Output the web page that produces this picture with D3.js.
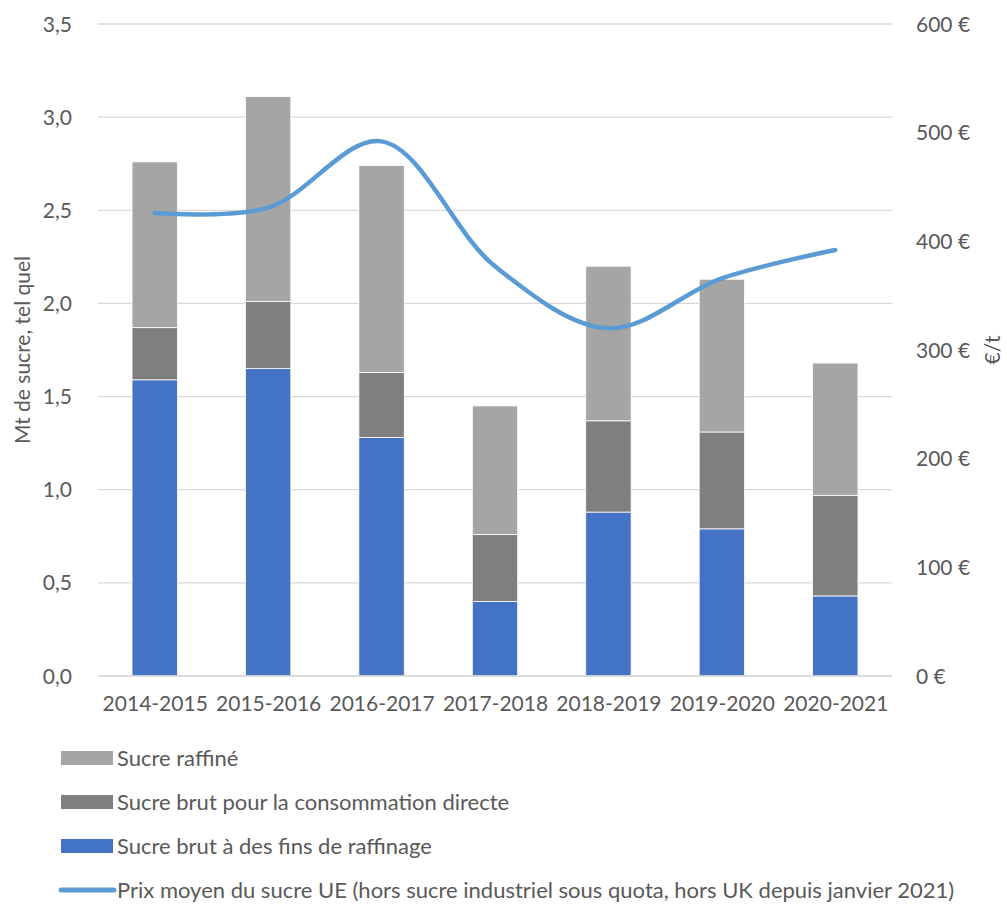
<!DOCTYPE html>
<html>
<head>
<meta charset="utf-8">
<script src="https://cdn.jsdelivr.net/npm/d3@7"></script>
<style>
  body { margin: 0; background: #fff; }
  text { font-family: Lato, "Open Sans", sans-serif; fill: #595959; }
</style>
</head>
<body>
<svg id="chart" width="1007" height="904"></svg>
<script>
// data
const campagnes = ["2014-2015", "2015-2016", "2016-2017", "2017-2018", "2018-2019", "2019-2020", "2020-2021"];
const brutRaffinage = [1.59, 1.65, 1.28, 0.40, 0.88, 0.79, 0.43];
const brutDirect = [0.28, 0.36, 0.35, 0.36, 0.49, 0.52, 0.54];
const raffine = [0.89, 1.10, 1.11, 0.69, 0.83, 0.82, 0.71];
const prixMoyen = [426, 431, 492, 377, 320, 366, 392];

const leftTicks = [0, 0.5, 1, 1.5, 2, 2.5, 3, 3.5];
const rightTicks = [0, 100, 200, 300, 400, 500, 600];

const seriesNames = {
  raffine: "Sucre raffiné",
  brutDirect: "Sucre brut pour la consommation directe",
  brutRaffinage: "Sucre brut à des fins de raffinage",
  prix: "Prix moyen du sucre UE (hors sucre industriel sous quota, hors UK depuis janvier 2021)"
};
const colors = { brutRaffinage: "#4472C4", brutDirect: "#7F7F7F", raffine: "#A5A5A5", prix: "#5B9BD5" };

const svg = d3.select("#chart");
const margins = { left: 98, right: 115, top: 24, bottom: 228 };
const W = 1007, H = 904;

const table = campagnes.map((c, i) => ({
  campagne: c,
  brutRaffinage: brutRaffinage[i],
  brutDirect: brutDirect[i],
  raffine: raffine[i],
  prix: prixMoyen[i]
}));

const x = d3.scaleBand().domain(campagnes)
  .range([margins.left, W - margins.right]).paddingInner(0.6).paddingOuter(0.3);
const xCenter = d3.scalePoint().domain(campagnes)
  .range([margins.left, W - margins.right]).padding(0.5);
const y = d3.scaleLinear().domain([0, 3.5]).range([H - margins.bottom, margins.top]);
const y2 = d3.scaleLinear().domain([0, 600]).range([H - margins.bottom, margins.top]);

// gridlines
svg.append("g").selectAll("line")
  .data(leftTicks)
  .join("line")
  .attr("x1", margins.left).attr("x2", W - margins.right)
  .attr("y1", d => y(d)).attr("y2", d => y(d))
  .attr("stroke", "#D9D9D9").attr("stroke-width", 1.3);

// left axis
const fmt = d3.format(".1f");
const leftAxis = svg.append("g")
  .attr("transform", `translate(${margins.left - 23},0)`)
  .call(d3.axisLeft(y).tickValues(leftTicks).tickSize(0).tickFormat(d => fmt(d).replace(".", ",")));
leftAxis.select(".domain").remove();
leftAxis.selectAll("text").style("font-size", "21px").attr("dy", "0.34em");

// right axis
const rightAxis = svg.append("g")
  .attr("transform", `translate(${W - margins.right + 21},0)`)
  .call(d3.axisRight(y2).tickValues(rightTicks).tickSize(0).tickFormat(d => d + " €"));
rightAxis.select(".domain").remove();
rightAxis.selectAll("text").style("font-size", "21px").attr("dy", "0.34em");

// stacked bars
const stack = d3.stack().keys(["brutRaffinage", "brutDirect", "raffine"]);
const stacked = stack(table);
svg.append("g").selectAll("g")
  .data(stacked)
  .join("g")
  .attr("fill", d => colors[d.key])
  .selectAll("rect")
  .data(d => d)
  .join("rect")
  .attr("x", d => x(d.data.campagne))
  .attr("y", d => y(d[1]))
  .attr("width", x.bandwidth())
  .attr("height", d => y(d[0]) - y(d[1]))
  .attr("stroke", "#fff").attr("stroke-width", 0.8);

// x axis baseline
svg.append("line")
  .attr("x1", margins.left).attr("x2", W - margins.right)
  .attr("y1", y(0)).attr("y2", y(0))
  .attr("stroke", "#D9D9D9").attr("stroke-width", 1.3);

const xAxis = svg.append("g")
  .attr("transform", `translate(0,${y(0) + 17})`)
  .call(d3.axisBottom(xCenter).tickSize(0));
xAxis.select(".domain").remove();
xAxis.selectAll("text").style("font-size", "21px").attr("dy", "0.71em");

// price line
const line = d3.line()
  .x(d => xCenter(d.campagne))
  .y(d => y2(d.prix))
  .curve(d3.curveCatmullRom.alpha(0.5));
svg.append("path")
  .datum(table)
  .attr("d", line)
  .attr("fill", "none")
  .attr("stroke", colors.prix)
  .attr("stroke-width", 4.5)
  .attr("stroke-linecap", "round")
  .attr("stroke-linejoin", "round");

// axis titles
svg.append("text")
  .attr("transform", `translate(30,${(y(0) + y(3.5)) / 2}) rotate(-90)`)
  .attr("text-anchor", "middle")
  .style("font-size", "21px")
  .text("Mt de sucre, tel quel");
svg.append("text")
  .attr("transform", `translate(1000,${(y(0) + y(3.5)) / 2}) rotate(-90)`)
  .attr("text-anchor", "middle")
  .style("font-size", "21px")
  .text("€/t");

// legend
const legendItems = [
  { key: "raffine", type: "rect" },
  { key: "brutDirect", type: "rect" },
  { key: "brutRaffinage", type: "rect" },
  { key: "prix", type: "line" }
];
const legend = svg.append("g").selectAll("g")
  .data(legendItems)
  .join("g")
  .attr("transform", (d, i) => `translate(0,${758 + i * 44})`);
legend.filter(d => d.type === "rect").append("rect")
  .attr("x", 61).attr("y", -7).attr("width", 52).attr("height", 14)
  .attr("fill", d => colors[d.key]);
legend.filter(d => d.type === "line").append("line")
  .attr("x1", 61).attr("x2", 114).attr("y1", 0).attr("y2", 0)
  .attr("stroke", d => colors[d.key]).attr("stroke-width", 5).attr("stroke-linecap", "round");
legend.append("text")
  .attr("x", 117).attr("dy", "0.35em")
  .style("font-size", "22px")
  .text(d => seriesNames[d.key]);
</script>
</body>
</html>
